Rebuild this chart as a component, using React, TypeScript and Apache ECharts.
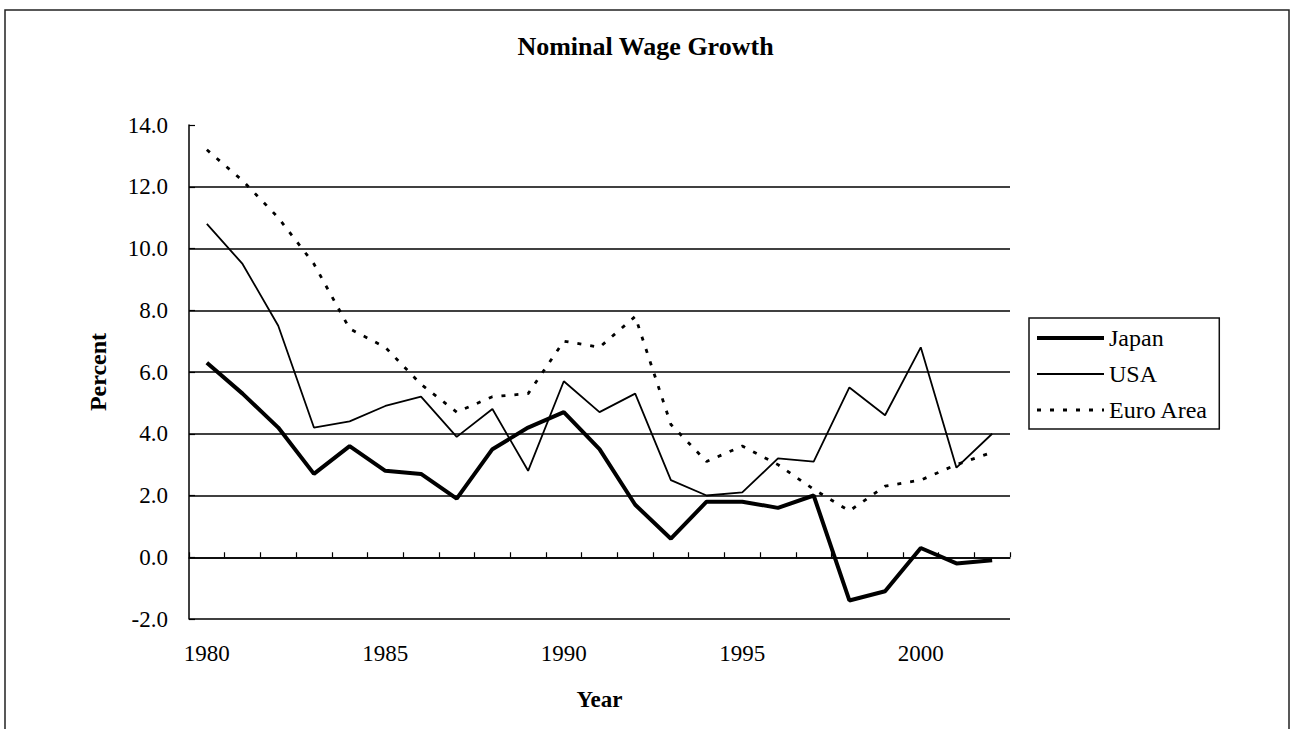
import React, { useEffect, useRef } from "react";
import * as echarts from "echarts";

const years = [
  "1980", "1981", "1982", "1983", "1984", "1985", "1986", "1987", "1988", "1989", "1990", "1991",
  "1992", "1993", "1994", "1995", "1996", "1997", "1998", "1999", "2000", "2001", "2002",
];
const japan = [6.3, 5.3, 4.2, 2.7, 3.6, 2.8, 2.7, 1.9, 3.5, 4.2, 4.7, 3.5, 1.7, 0.6, 1.8, 1.8, 1.6, 2.0, -1.4, -1.1, 0.3, -0.2, -0.1];
const usa = [10.8, 9.5, 7.5, 4.2, 4.4, 4.9, 5.2, 3.9, 4.8, 2.8, 5.7, 4.7, 5.3, 2.5, 2.0, 2.1, 3.2, 3.1, 5.5, 4.6, 6.8, 2.9, 4.0];
const euro = [13.2, 12.2, 11.0, 9.5, 7.4, 6.8, 5.6, 4.7, 5.2, 5.3, 7.0, 6.8, 7.8, 4.3, 3.1, 3.6, 3.0, 2.2, 1.5, 2.3, 2.5, 3.0, 3.4];

const FONT = '"Liberation Serif", "Times New Roman", serif';

const japanLine = { color: "#000", width: 4 };
const usaLine = { color: "#000", width: 1.8 };
const euroLine = { color: "#000", width: 2.8, type: [4, 9] };

export default function App() {
  const ref = useRef<HTMLDivElement>(null);
  useEffect(() => {
    if (!ref.current) return;
    const chart = echarts.init(ref.current, null, { renderer: "svg" });
    chart.setOption({
      animation: false,
      backgroundColor: "#fff",
      title: {
        text: "Nominal Wage Growth",
        left: "center",
        top: 28,
        textStyle: { fontFamily: FONT, fontSize: 26, fontWeight: "bold", color: "#000" },
      },
      graphic: [
        {
          type: "rect",
          shape: { x: 5, y: 10, width: 1284, height: 740 },
          style: { fill: "none", stroke: "#222", lineWidth: 1.5 },
          silent: true,
        },
      ],
      legend: {
        orient: "vertical",
        left: 1029,
        top: 318,
        width: 189,
        padding: [8, 11, 7, 6],
        itemGap: 12,
        itemWidth: 67,
        itemHeight: 14,
        borderColor: "#111",
        borderWidth: 1.5,
        textStyle: { fontFamily: FONT, fontSize: 24, color: "#000" },
        data: [
          { name: "Japan", itemStyle: { opacity: 0 }, lineStyle: japanLine },
          { name: "USA", itemStyle: { opacity: 0 }, lineStyle: usaLine },
          { name: "Euro Area", itemStyle: { opacity: 0 }, lineStyle: euroLine },
        ],
      },
      grid: { left: 189, right: 281, top: 125, bottom: 110 },
      xAxis: {
        type: "category",
        data: years,
        boundaryGap: true,
        name: "Year",
        nameLocation: "middle",
        nameGap: 69,
        nameTextStyle: { fontFamily: FONT, fontSize: 23, fontWeight: "bold", color: "#000" },
        axisLine: { lineStyle: { color: "#000", width: 1.5 } },
        axisTick: { show: true, inside: true, length: 5, interval: 0, lineStyle: { color: "#000", width: 1.2 } },
        axisLabel: { interval: 4, margin: 23, fontFamily: FONT, fontSize: 23, color: "#000" },
        splitLine: { show: false },
      },
      yAxis: {
        type: "value",
        min: -2,
        max: 14,
        interval: 2,
        name: "Percent",
        nameLocation: "middle",
        nameRotate: 90,
        nameGap: 79,
        nameTextStyle: { fontFamily: FONT, fontSize: 24, fontWeight: "bold", color: "#000" },
        axisLine: { show: true, lineStyle: { color: "#000", width: 1.5 } },
        axisTick: { show: true, inside: true, length: 6, lineStyle: { color: "#000", width: 1.2 } },
        axisLabel: {
          margin: 21,
          fontFamily: FONT,
          fontSize: 23,
          color: "#000",
          formatter: (v: number) => v.toFixed(1),
        },
        splitLine: { show: true, showMaxLine: false, lineStyle: { color: "#000", width: 1.5 } },
      },
      series: [
        {
          name: "Japan",
          type: "line",
          data: japan,
          symbol: "none",
          lineStyle: japanLine,
          itemStyle: { color: "#000" },
        },
        {
          name: "USA",
          type: "line",
          data: usa,
          symbol: "none",
          lineStyle: usaLine,
          itemStyle: { color: "#000" },
        },
        {
          name: "Euro Area",
          type: "line",
          data: euro,
          symbol: "none",
          lineStyle: euroLine,
          itemStyle: { color: "#000" },
        },
      ],
    });
    return () => chart.dispose();
  }, []);
  return (
    <div
      ref={ref}
      style={{ position: "fixed", left: 0, top: 0, width: 1291, height: 729, background: "#fff" }}
    />
  );
}
